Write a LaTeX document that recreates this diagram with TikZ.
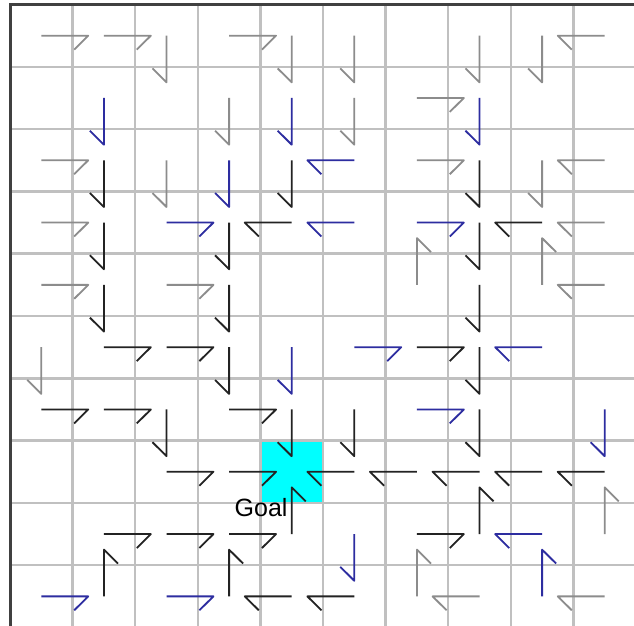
\documentclass[tikz,border=0pt]{standalone}
\usepackage{fontspec}
\setmainfont{Liberation Sans}
\definecolor{cg}{RGB}{140,140,140}
\definecolor{ck}{RGB}{35,35,35}
\definecolor{cb}{RGB}{45,45,160}
\definecolor{gridc}{RGB}{192,192,192}
\definecolor{borderc}{RGB}{64,64,64}
\definecolor{goalc}{RGB}{0,255,255}
\tikzset{
  gridline/.style={line width=2.5pt, draw=gridc},
  borderline/.style={line width=3pt, draw=borderc},
  arrowline/.style={line width=1.8pt, line join=round},
  pics/R/.style={code={\draw[arrowline] (0,0) -- (0.75,0) -- (0.525,0.224);}},
  pics/L/.style={code={\draw[arrowline] (0,0) -- (-0.75,0) -- (-0.525,0.224);}},
  pics/D/.style={code={\draw[arrowline] (0,0) -- (0,0.75) -- (-0.224,0.526);}},
  pics/U/.style={code={\draw[arrowline] (0,0) -- (0,-0.75) -- (0.224,-0.526);}},
  goallabel/.style={font=\fontsize{25}{30}\selectfont, anchor=base west, inner sep=0pt, text=black}
}
\begin{document}
\begin{tikzpicture}[x=1pt,y=-1pt]
\useasboundingbox (0,0) rectangle (634,625);
\fill[white] (0,0) rectangle (634,625);
\clip (0,0) rectangle (634,625);
\begin{scope}[shift={(10,4.5)}, x=62.6pt, y=-62.3pt]
  % goal cell
  \fill[goalc] (4,7) rectangle (5,8);
  % grid
  \foreach \i in {1,...,10} {
    \draw[gridline] (\i,0) -- (\i,10.3);
    \draw[gridline] (0,\i) -- (10.3,\i);
  }
  \draw[borderline] (0,10.3) -- (0,0) -- (10.3,0);
  % right arrows
  \foreach \r/\c/\k in {0/0/g,0/1/g,0/3/g,1/6/g,2/0/g,2/6/g,3/0/g,3/2/b,3/6/b,
      4/0/g,4/2/g,5/1/k,5/2/k,5/5/b,5/6/k,6/0/k,6/1/k,6/3/k,6/6/b,7/2/k,7/3/k,
      8/1/k,8/2/k,8/3/k,8/6/k,9/0/b,9/2/b}
    \pic[color=c\k] at (\c+0.5,\r+0.5) {R};
  % down arrows
  \foreach \r/\c/\k in {0/2/g,0/4/g,0/5/g,0/7/g,0/8/g,1/1/b,1/3/g,1/4/b,1/5/g,1/7/b,
      2/1/k,2/2/g,2/3/b,2/4/k,2/7/k,2/8/g,3/1/k,3/3/k,3/7/k,4/1/k,4/3/k,4/7/k,
      5/0/g,5/3/k,5/4/b,5/7/k,6/2/k,6/4/k,6/5/k,6/7/k,6/9/b,8/5/b}
    \pic[color=c\k] at (\c+0.5,\r+0.5) {D};
  % left arrows
  \foreach \r/\c/\k in {0/9/g,2/5/b,2/9/g,3/4/k,3/5/b,3/8/k,3/9/g,4/9/g,5/8/b,
      7/5/k,7/6/k,7/7/k,7/8/k,7/9/k,8/8/b,9/4/k,9/5/k,9/7/g,9/9/g}
    \pic[color=c\k] at (\c+0.5,\r+0.5) {L};
  % up arrows
  \foreach \r/\c/\k in {4/6/g,4/8/g,8/4/k,8/7/k,8/9/g,9/1/k,9/3/k,9/6/g,9/8/b}
    \pic[color=c\k] at (\c+0.5,\r+0.5) {U};
\end{scope}
\node[goallabel] (goal) at (234.5,516) {Goal};
\end{tikzpicture}
\end{document}
